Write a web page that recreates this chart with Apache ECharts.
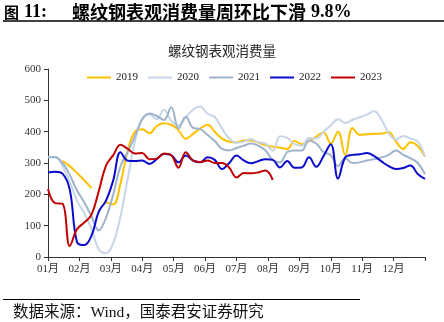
<!DOCTYPE html>
<html>
<head>
<meta charset="utf-8">
<script src="https://cdn.jsdelivr.net/npm/echarts@6/dist/echarts.min.js"></script>
<style>
  html, body { margin: 0; padding: 0; background: #fff; }
  #chart { width: 444px; height: 322px; }
</style>
</head>
<body>
<div id="chart"></div>
<script>
// Weekly rebar apparent consumption (10k tonnes), week 0..52 of each year
const monthLabels = ['01月','02月','03月','04月','05月','06月','07月','08月','09月','10月','11月','12月'];
const yearNames = ['2019', '2020', '2021', '2022', '2023'];

const y2019 = [null, null, 307, 290, 268, 245, 220, null, 174, 168, 235, 340, 400, 408, 395, 418, 427, 422, 405, 377,
  393, 410, 422, 400, 378, 368, 366, 372, 372, 365, 357, 352, 349, 345, 370, 360, 370, 384, 398, 362,
  400, 325, 412, 390, 392, 393, 394, 398, 368, 345, 366, 354, 320];
const y2020 = [318, 320, 290, 240, 180, 140, 90, 25, 12, 45, 130, 250, 370, 440, 455, 440, 470, 435, 420, 445,
  470, 480, 457, 447, 410, 378, 364, 368, 376, 366, 362, 340, 385, 380, 360, 355, 380, 378, 400, 420,
  440, 428, 438, 446, 455, 465, 438, 395, 375, 386, 378, 368, 320];
const y2021 = [318, 318, 300, 262, 212, 175, 130, 85, 125, 200, 290, 335, 385, 440, 458, 450, 437, 478, 410, 448,
  412, 408, 390, 370, 345, 340, 348, 355, 362, 355, 340, 310, 302, 335, 340, 340, 372, 362, 335, 325,
  290, 315, 300, 302, 308, 312, 318, 326, 340, 326, 315, 300, 265];
const y2022 = [270, 272, 266, 215, 48, 38, 68, 145, 180, 245, 334, 307, 306, 308, 297, 312, 329, 325, 302, 324,
  308, 302, 318, 310, 281, 300, 324, 308, 299, 306, 312, 310, 286, 306, 285, 286, 318, 288, 322, 360,
  250, 318, 326, 328, 332, 322, 305, 290, 281, 284, 292, 265, 249];
const y2023 = [217, 172, 170, 35, 89, 110, 135, 210, 292, 325, 358, 345, 330, 332, 312, 314, 330, 325, 285, 334,
  308, 303, 308, 300, 300, 285, 254, 268, 267, 270, 276, 246];

const yearValues = [y2019, y2020, y2021, y2022, y2023];
const yearColors = ['#FFC000', '#C6D5E8', '#9FB3CC', '#0A0ACC', '#C00000'];

const weeksPerYear = 52;
const monthStep = weeksPerYear / 12;
const serif = '"Liberation Serif", "Noto Sans CJK SC", serif';
const cjk = '"Noto Sans CJK SC", sans-serif';

const chart = echarts.init(document.getElementById('chart'), null, { renderer: 'canvas' });

function label(text, x, y, font, size, weight, color) {
  return {
    type: 'text', x, y,
    style: { text, font: `${weight} ${size}px ${font}`, fill: color || '#000', textVerticalAlign: 'middle' }
  };
}

chart.setOption({
  animation: false,
  backgroundColor: '#ffffff',
  title: {
    text: '螺纹钢表观消费量',
    left: 'center', top: 39,
    textStyle: { fontFamily: cjk, fontSize: 13.5, fontWeight: 'normal', color: '#222' }
  },
  graphic: [
    // figure caption
    label('图', 4, 12, cjk, 15, 'bold'),
    label('11:', 24, 12, '"Liberation Serif", serif', 18, 'bold'),
    label('螺纹钢表观消费量周环比下滑', 72, 12, cjk, 18, 'bold'),
    label('9.8%', 311, 12, '"Liberation Serif", serif', 18, 'bold'),
    { type: 'line', shape: { x1: 3, y1: 21, x2: 444, y2: 21 }, style: { stroke: '#000', lineWidth: 1.5 } },
    // source note
    { type: 'line', shape: { x1: 3, y1: 299.5, x2: 360, y2: 299.5 }, style: { stroke: '#000', lineWidth: 1 } },
    label('数据来源：Wind，国泰君安证券研究', 13, 313, serif, 15.5, 'normal', '#111')
  ],
  legend: {
    top: 67, left: 82,
    itemWidth: 24, itemHeight: 2, itemGap: 10,
    icon: 'rect',
    textStyle: { fontFamily: serif, fontSize: 11, color: '#222' },
    data: yearNames
  },
  grid: { left: 48, right: 19, top: 69, bottom: 65 },
  xAxis: {
    type: 'value',
    min: 0, max: weeksPerYear, interval: monthStep,
    axisLine: { lineStyle: { color: '#333', width: 1 } },
    axisTick: { show: true, length: 4, lineStyle: { color: '#333' } },
    splitLine: { show: false },
    axisLabel: {
      fontFamily: serif, fontSize: 11, color: '#333', margin: 7,
      formatter: v => {
        const i = Math.round(v / monthStep);
        return i < monthLabels.length ? monthLabels[i] : '';
      }
    }
  },
  yAxis: {
    type: 'value',
    min: 0, max: 600, interval: 100,
    axisLine: { show: true, lineStyle: { color: '#333', width: 1 } },
    axisTick: { show: true, length: 4, lineStyle: { color: '#333' } },
    splitLine: { show: false },
    axisLabel: { fontFamily: serif, fontSize: 11, color: '#333', margin: 7 }
  },
  series: yearNames.map((name, k) => ({
    name,
    type: 'line',
    smooth: 0.4,
    showSymbol: false,
    connectNulls: false,
    color: yearColors[k],
    lineStyle: { width: 2, color: yearColors[k] },
    data: yearValues[k].map((v, i) => [i, v])
  }))
});
</script>
</body>
</html>
